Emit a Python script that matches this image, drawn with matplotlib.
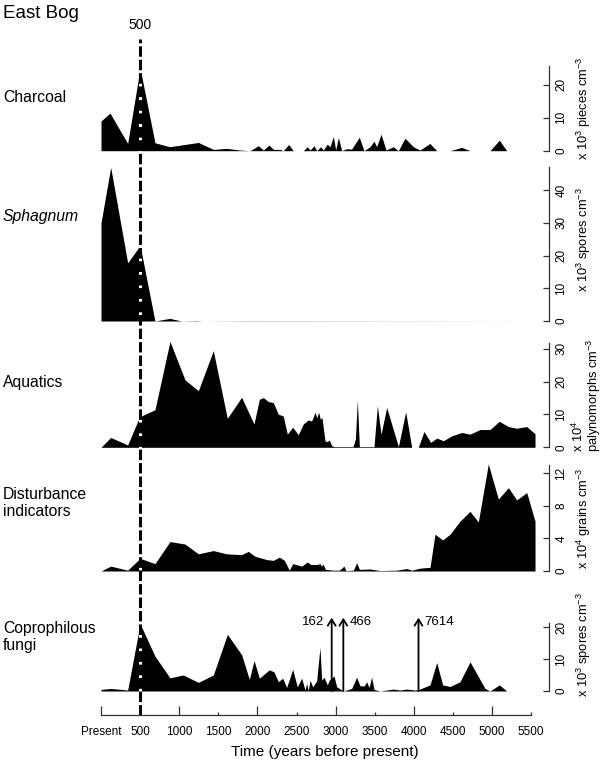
import matplotlib
matplotlib.use("Agg")
import matplotlib.pyplot as plt
from matplotlib.ticker import FixedLocator

plt.rcParams['font.family'] = ['Liberation Sans', 'DejaVu Sans']
plt.rcParams['mathtext.fontset'] = 'custom'
plt.rcParams['mathtext.rm'] = 'Liberation Sans'
plt.rcParams['mathtext.it'] = 'Liberation Sans:italic'

# ---------------- data (years before present, value) ----------------
charcoal_t = [0, 115, 341, 500, 690, 880, 1245, 1436, 1607, 1777, 1905, 2012, 2076, 2148, 2204,
              2289, 2332, 2400, 2459, 2587, 2638, 2673, 2724, 2758, 2809, 2843, 2894, 2928, 2971,
              3001, 3035, 3078, 3142, 3205, 3303, 3363, 3440, 3491, 3525, 3581, 3645, 3738, 3802,
              3887, 3994, 4079, 4207, 4292, 4463, 4612, 4719, 4974, 5094, 5188, 5560]
charcoal_v = [9, 11.4, 2.2, 25, 2.4, 1.2, 2.5, 0.4, 0.7, 0.2, 0, 1.5, 0.2, 1.7, 0.4,
              0.4, 0, 1.9, 0, 0, 1.2, 0.2, 1.5, 0, 1.2, 0.2, 2.0, 1.2, 4.3,
              0.2, 4.0, 0, 0.6, 0.5, 4.1, 0, 1.2, 2.9, 1.2, 5.0, 0.2, 1.2, 0,
              3.8, 1.2, 0.2, 2.2, 0, 0, 1.0, 0, 0, 3.2, 0, 0]

sphagnum_t = [0, 124, 341, 500, 690, 880, 1030, 1220, 1300, 1860, 5560]
sphagnum_v = [30, 47, 17.8, 23.1, 0, 0.8, 0, 0.1, 0, 0.05, 0]

aquatics_t = [0, 124, 341, 490, 541, 690, 882, 1074, 1245, 1436, 1615, 1798, 1956, 2025, 2076,
              2140, 2204, 2266, 2330, 2383, 2451, 2523, 2587, 2651, 2694, 2737, 2760, 2783, 2805,
              2826, 2864, 2890, 2920, 2950, 2980, 3223, 3253, 3278, 3304, 3491, 3534, 3581, 3653,
              3803, 3896, 3973, 4058, 4130, 4216, 4293, 4378, 4485, 4613, 4719, 4847, 4974, 5093,
              5209, 5316, 5444, 5550]
aquatics_v = [0, 3.0, 0.7, 9.1, 9.8, 11.4, 32.2, 20.5, 17.2, 29.4, 8.8, 15.2, 7.1, 14.6, 15.1,
              13.9, 13.6, 10.1, 9.5, 4.0, 6.1, 3.8, 7.1, 8.3, 8.0, 10.6, 9.0, 10.7, 8.5,
              9.1, 2.0, 1.7, 2.2, 0.5, 0.2, 0.2, 2.5, 14.3, 0.2, 0.2, 12.6, 4.0, 12.1,
              0.2, 10.8, 0, 0, 4.8, 1.5, 2.8, 2.0, 3.5, 4.5, 4.0, 5.4, 5.4, 7.9,
              6.3, 5.8, 6.3, 4.1]

disturb_t = [0, 124, 341, 500, 690, 882, 1074, 1245, 1436, 1607, 1798, 1884, 1970, 2119, 2204,
             2281, 2345, 2408, 2451, 2566, 2638, 2681, 2766, 2800, 2820, 2840, 2869, 2971, 3050,
             3107, 3133, 3227, 3269, 3304, 3440, 3568, 3781, 3909, 3973, 4079, 4207, 4271, 4369,
             4463, 4591, 4719, 4825, 4953, 5081, 5209, 5316, 5444, 5550]
disturb_v = [0, 0.6, 0.1, 1.55, 0.9, 3.6, 3.3, 2.1, 2.5, 2.1, 2.0, 2.4, 1.8, 1.4, 1.3,
             1.7, 1.3, 0.1, 0.9, 0.6, 1.1, 0.8, 0.8, 0.9, 0.6, 0.85, 0.2, 0.1, 0.1,
             0.6, 0.05, 0.1, 1.0, 0.2, 0.25, 0.05, 0.1, 0.3, 0.1, 0.35, 0.45, 4.5, 3.8,
             4.5, 6.1, 7.3, 6.0, 13.1, 8.8, 10.2, 8.7, 9.6, 6.1]

copro_t = [0, 124, 341, 500, 690, 882, 1050, 1245, 1436, 1616, 1799, 1897, 1957, 2025, 2152,
           2212, 2268, 2323, 2374, 2451, 2510, 2566, 2609, 2630, 2650, 2673, 2707, 2758, 2800,
           2822, 2852, 2894, 2920, 2979, 3014, 3099, 3206, 3269, 3312, 3367, 3397, 3427, 3461,
           3491, 3568, 3738, 3824, 3909, 4015, 4066, 4207, 4293, 4369, 4463, 4591, 4719, 4825,
           4910, 4974, 5094, 5188, 5560]
copro_v = [0.5, 0.8, 0.3, 21, 10.9, 4.1, 5.0, 2.7, 5.0, 17.7, 11.3, 3.6, 9.5, 4.0, 6.6,
           6.0, 2.9, 4.0, 1.1, 6.8, 1.3, 4.0, 0.3, 2.4, 0.1, 3.4, 1.3, 3.2, 13.6,
           3.4, 4.3, 1.9, 3.4, 4.7, 1.3, 0, 0.8, 4.3, 1.6, 1.6, 2.9, 1.1, 4.3,
           0.5, 0, 0.6, 0.3, 0.6, 0.3, 0.5, 1.9, 8.9, 1.9, 1.4, 2.9, 9.1, 4.5,
           0.8, 0, 1.9, 0, 0]

# off-scale coprophilous values shown as arrows
arrow_t = [2950, 3099, 4060]
arrow_labels = ['162', '466', '7614']

panel_names = ['Charcoal', 'Sphagnum', 'Aquatics', 'Disturbance\nindicators', 'Coprophilous\nfungi']
unit_labels = [r'x 10$^{3}$ pieces cm$^{-3}$', r'x 10$^{3}$ spores cm$^{-3}$',
               'x 10$^{4}$\npalynomorphs cm$^{-3}$', r'x 10$^{4}$ grains cm$^{-3}$',
               r'x 10$^{3}$ spores cm$^{-3}$']
yticks = [[0, 10, 20], [0, 10, 20, 30, 40], [0, 10, 20, 30], [0, 4, 8, 12], [0, 10, 20]]
xtick_vals = [0, 500, 1000, 1500, 2000, 2500, 3000, 3500, 4000, 4500, 5000, 5500]
xtick_labels = ['Present', '500', '1000', '1500', '2000', '2500', '3000', '3500',
                '4000', '4500', '5000', '5500']
marker_year = 500

# ---------------- layout ----------------
W, H = 610, 766
fig = plt.figure(figsize=(W / 100, H / 100), dpi=100)

X0, X1 = 101, 549
XMAX = (X1 - X0) / 0.0782


def fx(px):
    return px / W


def fy(py):
    return 1 - py / H


# baseline px, top px, px per unit, spine top value
geom = [(150.7, 55, 3.30, 25.6),
        (321.0, 160, 3.27, 47.2),
        (447.3, 335, 3.29, 31.8),
        (571.0, 455, 8.17, 13.0),
        (691.0, 600, 3.20, 21.3)]
label_y = [98, 216, 383, 503, 637]
unit_pos = [(584, 108), (584, 240), (587, 395), (584, 518), (584, 645)]

series = [(charcoal_t, charcoal_v), (sphagnum_t, sphagnum_v), (aquatics_t, aquatics_v),
          (disturb_t, disturb_v), (copro_t, copro_v)]

axes = []
for i, ((base, top, ppu, stop), (t, v)) in enumerate(zip(geom, series)):
    ax = fig.add_axes([fx(X0), fy(base), fx(X1) - fx(X0), (base - top) / H])
    ax.fill_between(t, 0, v, color='black', lw=0, zorder=2)
    ax.set_xlim(0, XMAX)
    ax.set_ylim(0, (base - top) / ppu)
    for s in ['top', 'left', 'bottom']:
        ax.spines[s].set_visible(False)
    ax.spines['right'].set_bounds(0, stop)
    ax.spines['right'].set_color('#333333')
    ax.spines['right'].set_linewidth(0.9)
    ax.set_xticks([])
    ax.yaxis.tick_right()
    ax.set_yticks(yticks[i])
    ax.tick_params(axis='y', direction='in', length=4.5, width=0.9, color='#333333',
                   labelsize=8.5, pad=4.5, labelrotation=90)
    for lbl in ax.get_yticklabels():
        lbl.set_va('center')
        lbl.set_ha('left')
    ax.patch.set_visible(False)
    style = 'italic' if panel_names[i] == 'Sphagnum' else 'normal'
    fig.text(fx(3), fy(label_y[i]), panel_names[i], fontsize=11.3, ha='left', va='center',
             style=style, linespacing=1.15)
    ux, uy = unit_pos[i]
    fig.text(fx(ux), fy(uy), unit_labels[i], fontsize=9.3, rotation=90, ha='center',
             va='center', multialignment='left', linespacing=0.95)
    axes.append(ax)

# arrows for off-scale coprophilous fungi values
axc = axes[4]
for j, (at, lab) in enumerate(zip(arrow_t, arrow_labels)):
    axc.annotate('', xy=(at, 22.9), xytext=(at, 0.0),
                 arrowprops=dict(arrowstyle='->,head_length=0.45,head_width=0.28', lw=1.3,
                                 color='black', shrinkA=0, shrinkB=0),
                 annotation_clip=False)
    if j == 0:
        axc.text(at - 90, 21.6, lab, ha='right', va='center', fontsize=9.5, clip_on=False)
    else:
        axc.text(at + 80, 21.6, lab, ha='left', va='center', fontsize=9.5, clip_on=False)

# overlay axes: time axis + marker line
ov = fig.add_axes([fx(X0), fy(715), fx(X1) - fx(X0), (715 - 35) / H])
ov.patch.set_visible(False)
ov.set_xlim(0, XMAX)
ov.set_ylim(0, 1)
for s in ['top', 'left', 'right']:
    ov.spines[s].set_visible(False)
ov.spines['bottom'].set_bounds(0, 5500)
ov.spines['bottom'].set_color('#333333')
ov.spines['bottom'].set_linewidth(0.9)
ov.set_yticks([])
major = [v for v in xtick_vals if v % 1000 == 0]
minor = [v for v in xtick_vals if v % 1000 != 0]
ov.xaxis.set_major_locator(FixedLocator(major))
ov.xaxis.set_minor_locator(FixedLocator(minor))
ov.set_xticklabels([l for v, l in zip(xtick_vals, xtick_labels) if v % 1000 == 0])
ov.set_xticklabels([l for v, l in zip(xtick_vals, xtick_labels) if v % 1000 != 0], minor=True)
ov.tick_params(axis='x', which='major', direction='in', length=6.5, width=0.9,
               color='#333333', labelsize=8.5, pad=8)
ov.tick_params(axis='x', which='minor', direction='in', length=2.2, width=0.9,
               color='#333333', labelsize=8.5, pad=8)
ov.set_xlabel('Time (years before present)', fontsize=11, labelpad=5)

ybot = 0.0
ytop = (715 - 39) / (715 - 35)
ov.plot([marker_year, marker_year], [ybot, ytop], color='black', lw=2.2,
        linestyle=(0, (3.4, 1.0)), gapcolor='white', solid_capstyle='butt',
        dash_capstyle='butt', zorder=5)
ov.text(marker_year, (715 - 25) / (715 - 35), str(marker_year), ha='center', va='center',
        fontsize=10)

fig.text(fx(3), fy(13), 'East Bog', fontsize=13.5, ha='left', va='center')

fig.savefig('out.png', dpi=100)
